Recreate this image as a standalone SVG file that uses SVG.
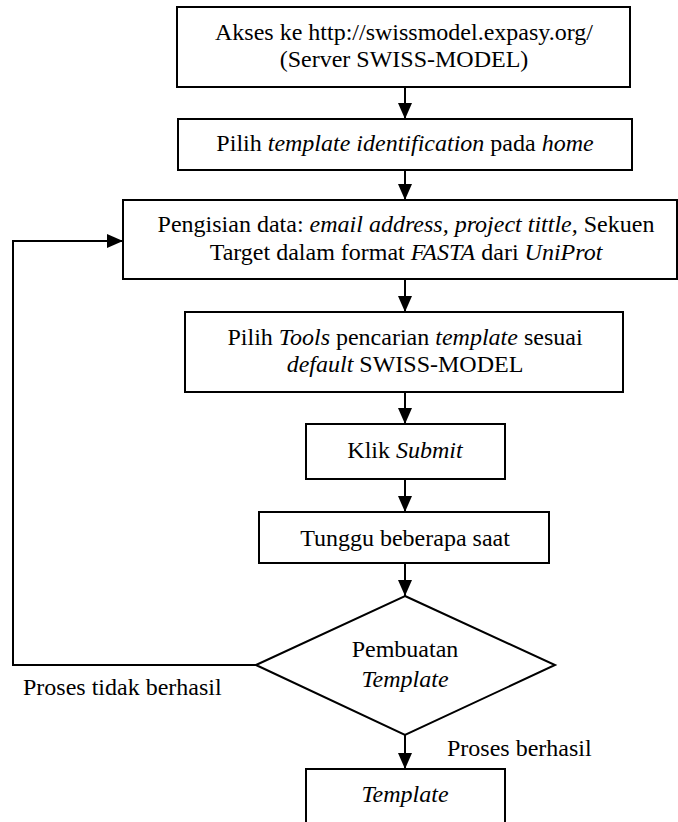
<svg xmlns="http://www.w3.org/2000/svg" width="678" height="822" viewBox="0 0 678 822">
<style>
.box{fill:#fff;stroke:#000;stroke-width:2}
.ln{fill:none;stroke:#000;stroke-width:2}
text{font-family:"Liberation Serif","Times New Roman",serif;font-size:24px;fill:#000}
.c{text-anchor:middle}
.i{font-style:italic}
</style>
<defs>
<marker id="ah" markerUnits="userSpaceOnUse" markerWidth="16" markerHeight="14" refX="16" refY="7" orient="auto">
<path d="M0,0 L16,7 L0,14 Z" fill="#000"/>
</marker>
</defs>
<rect width="678" height="822" fill="#fff"/>
<g id="connectors">
<line class="ln" x1="405" y1="87" x2="405" y2="119" marker-end="url(#ah)"/>
<line class="ln" x1="405" y1="170" x2="405" y2="200" marker-end="url(#ah)"/>
<line class="ln" x1="405" y1="279" x2="405" y2="312" marker-end="url(#ah)"/>
<line class="ln" x1="405" y1="392" x2="405" y2="424" marker-end="url(#ah)"/>
<line class="ln" x1="405" y1="479" x2="405" y2="512" marker-end="url(#ah)"/>
<line class="ln" x1="405" y1="563" x2="405" y2="596" marker-end="url(#ah)"/>
<line class="ln" x1="405" y1="735" x2="405" y2="769" marker-end="url(#ah)"/>
<polyline class="ln" points="256,665 13,665 13,241 123,241" marker-end="url(#ah)"/>
<text x="23" y="695">Proses tidak berhasil</text>
<text x="447" y="756">Proses berhasil</text>
</g>
<g id="n1">
<rect class="box" x="177" y="7" width="453" height="80"/>
<text class="c" x="404" y="40">Akses ke http://swissmodel.expasy.org/</text>
<text class="c" x="404" y="67">(Server SWISS-MODEL)</text>
</g>
<g id="n2">
<rect class="box" x="178" y="119" width="454" height="51"/>
<text class="c" x="405" y="151">Pilih <tspan class="i">template identification</tspan> pada <tspan class="i">home</tspan></text>
</g>
<g id="n3">
<rect class="box" x="123" y="200" width="554" height="79"/>
<text class="c" x="406" y="232">Pengisian data: <tspan class="i">email address, project tittle,</tspan> Sekuen</text>
<text class="c" x="406" y="260">Target dalam format <tspan class="i">FASTA</tspan> dari <tspan class="i">UniProt</tspan></text>
</g>
<g id="n4">
<rect class="box" x="185" y="312" width="438" height="80"/>
<text class="c" x="405" y="345">Pilih <tspan class="i">Tools</tspan> pencarian <tspan class="i">template</tspan> sesuai</text>
<text class="c" x="405" y="372"><tspan class="i">default</tspan> SWISS-MODEL</text>
</g>
<g id="n5">
<rect class="box" x="306" y="424" width="199" height="55"/>
<text class="c" x="405" y="458">Klik <tspan class="i">Submit</tspan></text>
</g>
<g id="n6">
<rect class="box" x="259" y="512" width="290" height="51"/>
<text class="c" x="405" y="546">Tunggu beberapa saat</text>
</g>
<g id="n7">
<polygon class="box" points="405,596 555,665 405,735 256,665"/>
<text class="c" x="405" y="657">Pembuatan</text>
<text class="c i" x="405" y="687">Template</text>
</g>
<g id="n8">
<rect class="box" x="306" y="769" width="199" height="60"/>
<text class="c i" x="405" y="802">Template</text>
</g>
</svg>
